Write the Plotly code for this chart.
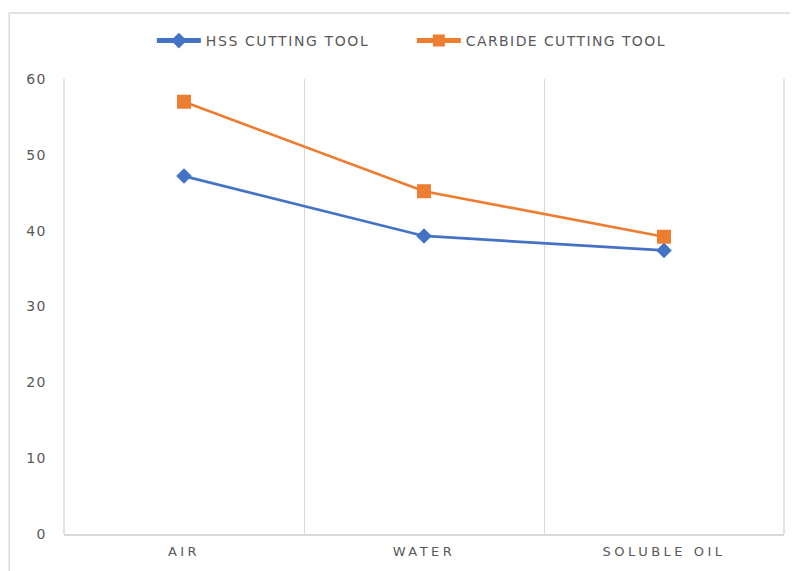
import plotly.graph_objects as go

categories = ["AIR", "WATER", "SOLUBLE OIL"]
hss_values = [47.2, 39.3, 37.4]
carbide_values = [57.0, 45.2, 39.2]
y_ticks = [0, 10, 20, 30, 40, 50, 60]
series_names = ["HSS CUTTING TOOL", "CARBIDE CUTTING TOOL"]


def spaced(text, px):
    return '<span style="letter-spacing:%spx">%s</span>' % (px, text)


fig = go.Figure()
fig.add_trace(go.Scatter(
    x=categories, y=hss_values, name=spaced(series_names[0], 1.6),
    mode="lines+markers",
    line=dict(color="#4472C4", width=2.75),
    marker=dict(symbol="diamond", size=12, color="#4472C4"),
))
fig.add_trace(go.Scatter(
    x=categories, y=carbide_values, name=spaced(series_names[1], 1.4),
    mode="lines+markers",
    line=dict(color="#ED7D31", width=2.75),
    marker=dict(symbol="square", size=14, color="#ED7D31"),
))

fig.update_layout(
    width=790, height=563,
    margin=dict(l=56, r=14, t=71, b=37),
    paper_bgcolor="white", plot_bgcolor="white",
    font=dict(family="DejaVu Sans, sans-serif", color="#595959"),
    showlegend=True,
    legend=dict(orientation="h", x=0.122, xanchor="left", y=1.0835, yanchor="middle",
                font=dict(size=14, color="#595959"), traceorder="normal",
                itemsizing="constant", entrywidth=201, entrywidthmode="pixels",
                itemwidth=44),
    xaxis=dict(type="category", tickson="boundaries", showgrid=True, gridcolor="#D9D9D9",
               gridwidth=1, showline=True, linecolor="#D9D9D9", linewidth=1.5,
               ticks="", tickfont=dict(size=13, color="#595959"), ticklabelstandoff=5,
               tickvals=categories, ticktext=[spaced(c, 3.5) for c in categories],
               range=[-0.5, 2.5], automargin=False),
    yaxis=dict(range=[0, 60], tickvals=y_ticks,
               ticktext=[spaced(str(v), 1.5) for v in y_ticks],
               showgrid=False, zeroline=False,
               showline=False, ticks="", tickfont=dict(size=14, color="#595959"),
               ticklabelstandoff=16, automargin=False),
    shapes=[
        dict(type="rect", xref="paper", yref="paper", x0=-0.076, x1=1.2, y0=-0.3, y1=1.145,
             line=dict(color="#D9D9D9", width=1.5), fillcolor="rgba(0,0,0,0)", layer="below"),
        dict(type="line", xref="paper", yref="paper", x0=0, x1=0, y0=0, y1=1,
             line=dict(color="#D9D9D9", width=1.5)),
        dict(type="line", xref="paper", yref="paper", x0=1, x1=1, y0=0, y1=1,
             line=dict(color="#D9D9D9", width=1.5)),
    ],
)

fig.write_html("out.html")
